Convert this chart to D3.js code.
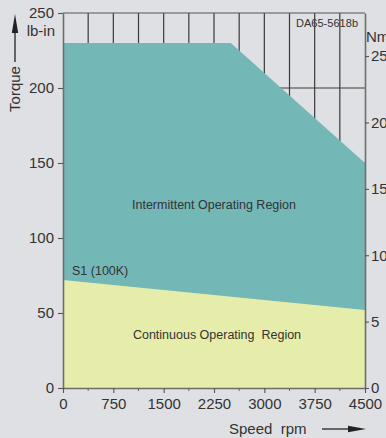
<!DOCTYPE html>
<html>
<head>
<meta charset="utf-8">
<script src="https://cdn.jsdelivr.net/npm/d3@7"></script>
<style>
  html, body { margin: 0; padding: 0; background: #dfe0e3; }
  svg { display: block; font-family: "Liberation Sans", Arial, sans-serif; }
</style>
</head>
<body>
<svg id="chart" width="386" height="438"></svg>
<script>
// Speed (rpm) and torque (lb-in) data
const speedTicks = [0, 750, 1500, 2250, 3000, 3750, 4500];
const speedMinorTicks = [375, 1125, 1875, 2625, 3375, 4125];
const torqueTicks = [0, 50, 100, 150, 200, 250];
const nmTicks = [0, 5, 10, 15, 20, 25];

const intermittentSpeed = [0, 2500, 4500];
const intermittentTorque = [230, 230, 150];
const continuousSpeed = [0, 4500];
const continuousTorque = [72, 52];

const LBIN_PER_NM = 8.8507;

const W = 386, H = 438;
const margin = { left: 63, right: 21, top: 13, bottom: 50 };
const svg = d3.select("#chart");
const bg = "#dfe0e3";
const textColor = "#333";
const fmt = d3.format("d");

svg.append("rect").attr("width", W).attr("height", H).attr("fill", bg);

const x = d3.scaleLinear().domain([0, 4500]).range([margin.left, W - margin.right]);
const y = d3.scaleLinear().domain([0, 250]).range([H - margin.bottom, margin.top]);
const yNm = d3.scaleLinear().domain([0, 250 / LBIN_PER_NM]).range([H - margin.bottom, margin.top]);

// Grid (only shows above the operating regions)
const grid = svg.append("g").attr("stroke", "#3a3a3a").attr("stroke-width", 1.2);
d3.range(375, 4500, 375).forEach(v => {
  grid.append("line").attr("x1", x(v)).attr("x2", x(v)).attr("y1", y(0)).attr("y2", y(250));
});
torqueTicks.slice(1, -1).forEach(v => {
  grid.append("line").attr("x1", x(0)).attr("x2", x(4500)).attr("y1", y(v)).attr("y2", y(v));
});

// Operating regions
const intermittent = intermittentSpeed.map((s, i) => [s, intermittentTorque[i]]);
const continuous = continuousSpeed.map((s, i) => [s, continuousTorque[i]]);
const area = d3.area().x(d => x(d[0])).y0(y(0)).y1(d => y(d[1]));

svg.append("path").datum(intermittent).attr("d", area).attr("fill", "#74b7b7");
svg.append("path").datum(continuous).attr("d", area).attr("fill", "#e6eca9");

// Top border
svg.append("line").attr("x1", x(0)).attr("x2", x(4500)).attr("y1", y(250)).attr("y2", y(250))
  .attr("stroke", "#555").attr("stroke-width", 1.2);

function styleAxis(g) {
  g.select(".domain").attr("stroke", "#6e6e6e").attr("stroke-width", 1.6);
  g.selectAll(".tick line").attr("stroke", "#555").attr("stroke-width", 1.1);
  g.selectAll(".tick text").attr("fill", textColor).attr("font-size", 15)
    .attr("font-family", "Liberation Sans, Arial, sans-serif");
}

// Left axis (lb-in)
const yAxis = svg.append("g").attr("transform", `translate(${x(0)},0)`)
  .call(d3.axisLeft(y).tickValues(torqueTicks).tickFormat(fmt).tickSize(5).tickSizeOuter(0).tickPadding(4));
styleAxis(yAxis);

// Right axis (Nm)
const nmAxis = svg.append("g").attr("transform", `translate(${x(4500)},0)`)
  .call(d3.axisRight(yNm).tickValues(nmTicks).tickFormat(fmt).tickSize(4).tickSizeOuter(0).tickPadding(2));
styleAxis(nmAxis);

// Bottom axis (rpm)
const xAxis = svg.append("g").attr("transform", `translate(0,${y(0)})`)
  .call(d3.axisBottom(x).tickValues(speedTicks).tickFormat(fmt).tickSize(5).tickSizeOuter(0).tickPadding(5));
styleAxis(xAxis);
xAxis.selectAll(".minor").data(speedMinorTicks).enter().append("line")
  .attr("x1", d => x(d)).attr("x2", d => x(d)).attr("y1", 0).attr("y2", 3)
  .attr("stroke", "#666").attr("stroke-width", 1);

// Axis titles
svg.append("text").attr("x", 55).attr("y", 36).attr("text-anchor", "end")
  .attr("font-size", 15).attr("fill", textColor).text("lb-in");
svg.append("text").attr("x", 366).attr("y", 42)
  .attr("font-size", 15).attr("fill", textColor).text("Nm");

svg.append("text").attr("transform", "translate(20,89) rotate(-90)").attr("text-anchor", "middle")
  .attr("font-size", 15).attr("fill", textColor).text("Torque");
svg.append("line").attr("x1", 15).attr("x2", 15).attr("y1", 62).attr("y2", 28)
  .attr("stroke", "#222").attr("stroke-width", 1.3);
svg.append("path").attr("d", "M15,14 L11.8,33 L18.2,33 Z").attr("fill", "#222");

svg.append("text").attr("x", 229).attr("y", 434)
  .attr("font-size", 15).attr("fill", textColor).attr("xml:space", "preserve").text("Speed  rpm");
svg.append("line").attr("x1", 322).attr("x2", 352).attr("y1", 429).attr("y2", 429)
  .attr("stroke", "#222").attr("stroke-width", 1.3);
svg.append("path").attr("d", "M366,429 L348,425.8 L348,432.2 Z").attr("fill", "#222");

// Chart id
svg.append("text").attr("x", 296).attr("y", 27).attr("font-size", 11)
  .attr("textLength", 62).attr("fill", textColor).text("DA65-5618b");

// Region labels
svg.append("text").attr("x", x(2250)).attr("y", 209).attr("text-anchor", "middle")
  .attr("font-size", 12.5).attr("fill", textColor).text("Intermittent Operating Region");
svg.append("text").attr("x", 217).attr("y", 339).attr("text-anchor", "middle")
  .attr("font-size", 12.5).attr("fill", textColor).attr("xml:space", "preserve")
  .text("Continuous Operating  Region");
svg.append("text").attr("x", 72).attr("y", 275)
  .attr("font-size", 12.5).attr("fill", textColor).text("S1 (100K)");
</script>
</body>
</html>
